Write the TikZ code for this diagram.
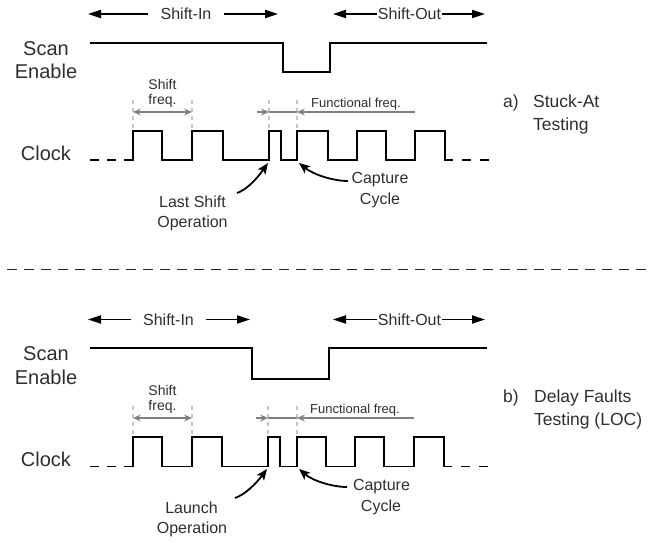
\documentclass[tikz,border=0pt]{standalone}
\usepackage{fontspec}
\setmainfont{Liberation Sans}
\usetikzlibrary{arrows.meta}

\tikzset{
  txt/.style={text=black!82, inner sep=0pt},
  sig/.style={line width=1.8pt, line join=miter},
  siglabel/.style={txt, font=\fontsize{20}{22}\selectfont, anchor=base},
  spanlbl/.style={txt, font=\fontsize{16}{18}\selectfont},
  notelbl/.style={txt, font=\fontsize{16}{18}\selectfont, anchor=base},
  shiftlbl/.style={txt, font=\fontsize{14}{16}\selectfont, anchor=base},
  funclbl/.style={txt, font=\fontsize{13}{15}\selectfont, anchor=base west},
  caplbl/.style={txt, font=\fontsize{17.5}{20}\selectfont, anchor=base west},
  spanarrow/.style={line width=1.8pt, -{Triangle[length=13pt,width=8pt]}},
  callout/.style={line width=1.8pt, -{Stealth[length=11pt,width=9pt,inset=2.5pt]}},
  grayhead/.style={-{Stealth[length=8pt,width=7pt,inset=3pt]}},
  grayline/.style={draw=black!50, line width=1.5pt},
  guide/.style={draw=black!22, line width=1.5pt, dash pattern=on 4pt off 4pt},
  separator/.style={draw=black!85, line width=1.5pt, dash pattern=on 10pt off 7pt},
  leadin/.style={sig, dash pattern=on 9pt off 8pt},
  leadout/.style={sig, dash pattern=on 9pt off 9pt, dash phase=9pt},
}

\begin{document}
\begin{tikzpicture}[x=1pt, y=-1pt]
\useasboundingbox (0,0) rectangle (662,542);

% ================= a) Stuck-At Testing =================
\node[siglabel] (scanA)   at (46,55)  {Scan};
\node[siglabel] (enableA) at (46,78)  {Enable};
\node[siglabel] (clockA)  at (46,160) {Clock};

% shift phases
\node[spanlbl, inner xsep=12pt] (sinA)  at (186,14)   {Shift-In};
\node[spanlbl, inner xsep=1pt]  (soutA) at (409.5,14) {Shift-Out};
\coordinate (sinAl)  at (88,14);
\coordinate (sinAr)  at (278,14);
\coordinate (soutAl) at (333,14);
\coordinate (soutAr) at (485,14);
\draw[spanarrow] (sinA.west)  -- (sinAl);
\draw[spanarrow] (sinA.east)  -- (sinAr);
\draw[spanarrow] (soutA.west) -- (soutAl);
\draw[spanarrow] (soutA.east) -- (soutAr);

% scan enable
\draw[sig] (90,43) -- (283,43) -- (283,72) -- (330,72) -- (330,43) -- (487,43);

% clock
\draw[leadin] (90,160) -- (124,160);
\draw[sig] (124,160) -- (133,160) -- (133,131) -- (162,131) -- (162,160)
  -- (192,160) -- (192,131) -- (223,131) -- (223,160) -- (269,160)
  -- (269,131) -- (281,131) -- (281,160) -- (297,160) -- (297,131)
  -- (328,131) -- (328,160) -- (357,160) -- (357,131) -- (386,131)
  -- (386,160) -- (415,160) -- (415,131) -- (445,131) -- (445,160) -- (453,160);
\draw[leadout] (453,160) -- (489,160);

% shift frequency
\draw[guide] (133,100) -- (133,131);
\draw[guide] (192,100) -- (192,131);
\coordinate (sfA1) at (133,112);
\coordinate (sfA2) at (192,112);
\draw[grayline, {Stealth[length=8pt,width=7pt,inset=3pt]}-{Stealth[length=8pt,width=7pt,inset=3pt]}] (sfA1) -- (sfA2);
\node[shiftlbl] (sftA)  at (162.5,89)  {Shift};
\node[shiftlbl] (sfqA)  at (162.5,104) {freq.};

% functional frequency
\draw[guide] (269,100) -- (269,131);
\draw[guide] (297,100) -- (297,131);
\coordinate (ffA0) at (257,112);
\coordinate (ffA1) at (269,112);
\coordinate (ffA2) at (297,112);
\coordinate (ffA3) at (415,112);
\draw[grayline, grayhead] (ffA0) -- (ffA1);
\draw[grayline] (ffA1) -- (ffA2);
\draw[grayline, grayhead] (ffA3) -- (ffA2);
\node[funclbl] (ffqA) at (311,107) {Functional freq.};

% call-outs
\node[notelbl] (lastA) at (192.5,207) {Last Shift};
\node[notelbl] (opA)   at (192.5,227) {Operation};
\coordinate (lastAs) at (237,193);
\coordinate (lastAt) at (268,163);
\draw[callout] (lastAs) .. controls (246,190) and (256,180) .. (lastAt);

\node[notelbl] (capA) at (380,183)   {Capture};
\node[notelbl] (cycA) at (380,204.5) {Cycle};
\coordinate (capAs) at (348,181);
\coordinate (capAt) at (299,163);
\draw[callout] (capAs) .. controls (334,181) and (314,175) .. (capAt);

% caption
\node[caplbl] (tagA)  at (503,107)   {a)};
\node[caplbl] (capt1) at (533,107)   {Stuck-At};
\node[caplbl] (capt2) at (533,130.5) {Testing};

% ================= separator =================
\coordinate (sepL) at (7,269.5);
\coordinate (sepR) at (646,269.5);
\draw[separator] (sepL) -- (sepR);

% ================= b) Delay Faults Testing (LOC) =================
\node[siglabel] (scanB)   at (46,360) {Scan};
\node[siglabel] (enableB) at (46,384) {Enable};
\node[siglabel] (clockB)  at (46,466) {Clock};

\node[spanlbl, inner xsep=11.5pt] (sinB)  at (168.5,319.5) {Shift-In};
\node[spanlbl, inner xsep=1pt]    (soutB) at (409.5,319.5) {Shift-Out};
\coordinate (sinBl)  at (88,319.5);
\coordinate (sinBr)  at (250,319.5);
\coordinate (soutBl) at (333,319.5);
\coordinate (soutBr) at (485,319.5);
\draw[spanarrow] (sinB.west)  -- (sinBl);
\draw[spanarrow] (sinB.east)  -- (sinBr);
\draw[spanarrow] (soutB.west) -- (soutBl);
\draw[spanarrow] (soutB.east) -- (soutBr);

% scan enable
\draw[sig] (90,348) -- (252,348) -- (252,379) -- (329,379) -- (329,348) -- (487,348);

% clock
\draw[leadin] (90,466.5) -- (124,466.5);
\draw[sig] (124,466.5) -- (133,466.5) -- (133,437) -- (162,437) -- (162,466.5)
  -- (192,466.5) -- (192,437) -- (222,437) -- (222,466.5) -- (268,466.5)
  -- (268,437) -- (280,437) -- (280,466.5) -- (297,466.5) -- (297,437)
  -- (326,437) -- (326,466.5) -- (355,466.5) -- (355,437) -- (384,437)
  -- (384,466.5) -- (414,466.5) -- (414,437) -- (444,437) -- (444,466.5) -- (452,466.5);
\draw[leadout] (452,466.5) -- (488,466.5);

% shift frequency
\draw[guide] (133,406) -- (133,437);
\draw[guide] (192,406) -- (192,437);
\coordinate (sfB1) at (133,418);
\coordinate (sfB2) at (192,418);
\draw[grayline, {Stealth[length=8pt,width=7pt,inset=3pt]}-{Stealth[length=8pt,width=7pt,inset=3pt]}] (sfB1) -- (sfB2);
\node[shiftlbl] (sftB) at (162.5,395) {Shift};
\node[shiftlbl] (sfqB) at (162.5,410) {freq.};

% functional frequency
\draw[guide] (268,406) -- (268,437);
\draw[guide] (297,406) -- (297,437);
\coordinate (ffB0) at (256,418);
\coordinate (ffB1) at (268,418);
\coordinate (ffB2) at (297,418);
\coordinate (ffB3) at (414,418);
\draw[grayline, grayhead] (ffB0) -- (ffB1);
\draw[grayline] (ffB1) -- (ffB2);
\draw[grayline, grayhead] (ffB3) -- (ffB2);
\node[funclbl] (ffqB) at (310,413) {Functional freq.};

% call-outs
\node[notelbl] (launchB) at (191.5,513.5) {Launch};
\node[notelbl] (opB)     at (192,533.5)   {Operation};
\coordinate (launchBs) at (235,498);
\coordinate (launchBt) at (267,469);
\draw[callout] (launchBs) .. controls (244,495) and (255,485) .. (launchBt);

\node[notelbl] (capB) at (381.5,490) {Capture};
\node[notelbl] (cycB) at (381,511)   {Cycle};
\coordinate (capBs) at (347,487);
\coordinate (capBt) at (299,469);
\draw[callout] (capBs) .. controls (333,487) and (313,481) .. (capBt);

% caption
\node[caplbl] (tagB)  at (503,402) {b)};
\node[caplbl] (capt3) at (534,402) {Delay Faults};
\node[caplbl] (capt4) at (534,425) {Testing (LOC)};
\end{tikzpicture}
\end{document}
